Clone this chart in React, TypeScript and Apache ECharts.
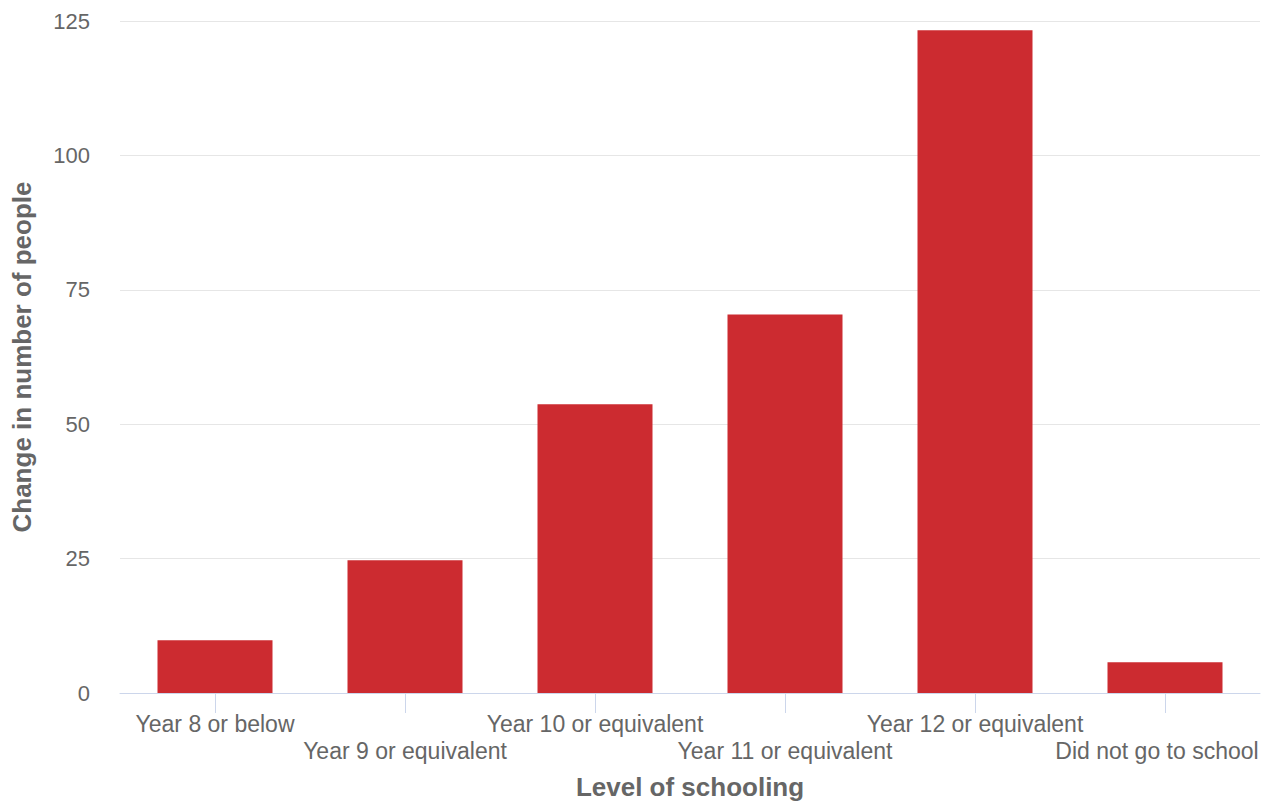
import React, { useEffect, useRef } from "react";
import * as echarts from "echarts";

const categories = [
  "Year 8 or below",
  "Year 9 or equivalent",
  "Year 10 or equivalent",
  "Year 11 or equivalent",
  "Year 12 or equivalent",
  "Did not go to school",
];
const values = [9.8, 24.7, 53.7, 70.4, 123.3, 5.7];
const yTicks = { min: 0, max: 125, interval: 25 };

const FONT = "'Liberation Sans', Arial, Helvetica, sans-serif";

export default function App() {
  const ref = useRef<HTMLDivElement>(null);
  useEffect(() => {
    if (!ref.current) return;
    const chart = echarts.init(ref.current, null, { renderer: "svg" });
    chart.setOption({
      animation: false,
      backgroundColor: "#ffffff",
      textStyle: { fontFamily: FONT },
      grid: {
        left: 120,
        right: 6,
        top: 21,
        bottom: 109,
        containLabel: false,
        outerBoundsMode: "none",
      },
      xAxis: {
        type: "category",
        data: categories,
        boundaryGap: true,
        name: "Level of schooling",
        nameLocation: "middle",
        nameGap: 81,
        nameTextStyle: { fontSize: 26, lineHeight: 26, fontWeight: "bold", color: "#666666", fontFamily: FONT },
        axisLine: { show: true, lineStyle: { color: "#ccd6eb", width: 1 } },
        axisTick: { show: true, alignWithLabel: true, length: 20, lineStyle: { color: "#ccd6eb" } },
        axisLabel: {
          interval: 0,
          margin: 17,
          fontSize: 23,
          lineHeight: 27,
          color: "#666666",
          fontFamily: FONT,
          formatter: (v: string, i: number) => {
            if (i === categories.length - 1) return "\n{r|" + v + "}";
            return i % 2 === 1 ? "\n" + v : v;
          },
          rich: {
            r: { fontSize: 23, lineHeight: 27, color: "#666666", fontFamily: FONT, padding: [0, 16, 0, 0] },
          },
        },
        splitLine: { show: false },
      },
      yAxis: {
        type: "value",
        min: yTicks.min,
        max: yTicks.max,
        interval: yTicks.interval,
        name: "Change in number of people",
        nameLocation: "middle",
        nameGap: 85,
        nameTextStyle: { fontSize: 26, fontWeight: "bold", color: "#666666", fontFamily: FONT },
        axisLine: { show: false },
        axisTick: { show: false },
        axisLabel: { margin: 30, fontSize: 22, color: "#666666", fontFamily: FONT },
        splitLine: { show: true, lineStyle: { color: "#e6e6e6", width: 1 } },
      },
      series: [
        {
          type: "bar",
          data: values,
          barWidth: 115,
          itemStyle: { color: "#cc2b30" },
        },
      ],
    });
    return () => chart.dispose();
  }, []);
  return (
    <div
      ref={ref}
      style={{ position: "fixed", left: 0, top: 0, width: 1266, height: 802 }}
    />
  );
}
